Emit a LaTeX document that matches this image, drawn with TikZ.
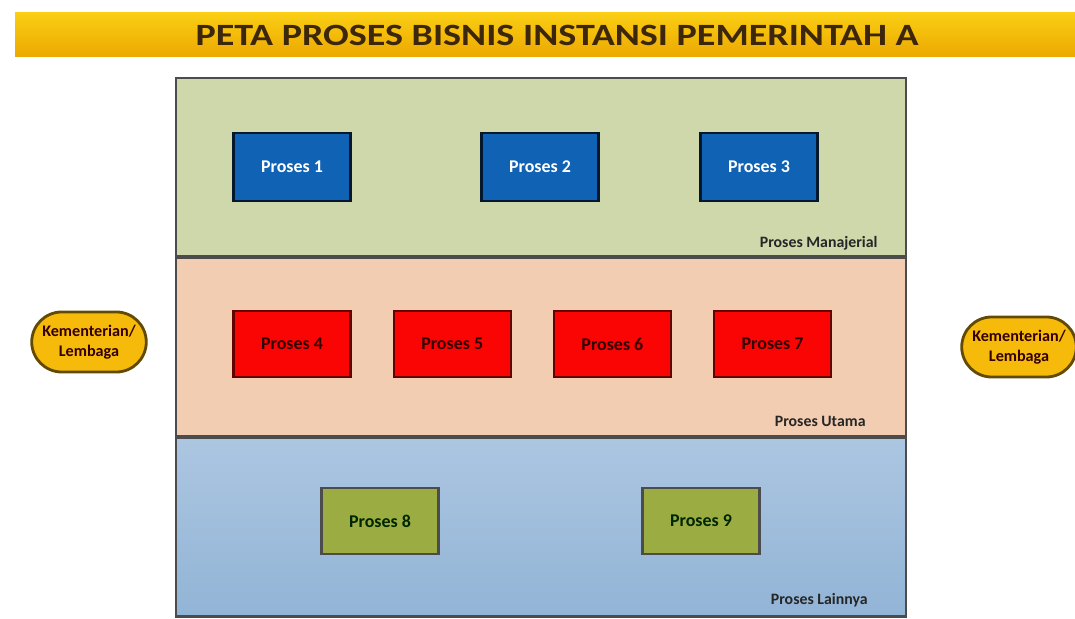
\documentclass[tikz,border=0pt]{standalone}
\usepackage{fontspec}
\setmainfont{Carlito}
\usepackage{tikz}
\usetikzlibrary{positioning,shapes.misc}

\definecolor{bandgreen}{RGB}{207,216,170}
\definecolor{bandpeach}{RGB}{243,205,178}
\definecolor{bandbluetop}{RGB}{172,198,225}
\definecolor{bandbluebot}{RGB}{146,180,214}
\definecolor{boxblue}{RGB}{16,98,180}
\definecolor{boxred}{RGB}{250,4,4}
\definecolor{boxolive}{RGB}{155,172,66}
\definecolor{pillgold}{RGB}{245,186,10}
\definecolor{titletop}{RGB}{250,206,20}
\definecolor{titlebot}{RGB}{236,168,0}
\definecolor{titletext}{RGB}{60,38,12}

\tikzset{
  band/.style={draw=black!70,line width=0.6pt,minimum width=7.30cm,minimum height=1.78cm,inner sep=0pt},
  procblue/.style={draw=black!75!boxblue,line width=0.6pt,fill=boxblue,text=white,minimum width=1.17cm,minimum height=0.68cm,font=\fontsize{5.1}{6}\selectfont\bfseries},
  procred/.style={draw=black!60!boxred,line width=0.6pt,fill=boxred,text=black!80!red,minimum width=1.17cm,minimum height=0.66cm,font=\fontsize{5.1}{6}\selectfont\bfseries},
  procolive/.style={draw=black!70,line width=0.6pt,fill=boxolive,text=black!85!green,minimum width=1.17cm,minimum height=0.66cm,font=\fontsize{5.1}{6}\selectfont\bfseries},
  pill/.style={rounded rectangle,draw=black!60!pillgold,line width=0.8pt,fill=pillgold,minimum width=1.18cm,minimum height=0.60cm,inner sep=0.5pt,align=center,font=\fontsize{4.6}{5.6}\selectfont\bfseries,text=black!80!red},
  bandlabel/.style={anchor=east,font=\fontsize{4.5}{5}\selectfont\bfseries,text=black!85}
}

\begin{document}
\begin{tikzpicture}[x=0.01cm,y=-0.01cm]
  \useasboundingbox[fill=white] (0,0) rectangle (1075,619);
  %% Title banner
  \shade[top color=titletop,bottom color=titlebot] (15,13) rectangle (1075,57);
  \node[font=\fontsize{8.8}{10}\selectfont\bfseries,text=titletext] (title) at (557,35) {\scalebox{1.23}[1]{PETA PROSES BISNIS INSTANSI PEMERINTAH A}};
  %% Bands
  \node[band,fill=bandgreen] (manaj) at (541,167) {};
  \node[band,fill=bandpeach,below=0pt of manaj] (utama) {};
  \node[band,top color=bandbluetop,bottom color=bandbluebot,below=0pt of utama] (lain) {};
  \node[bandlabel] at (890,243) {Proses Manajerial};
  \node[bandlabel] at (878,421) {Proses Utama};
  \node[bandlabel] at (880,600) {Proses Lainnya};
  %% Proses manajerial
  \node[procblue] (p1) at (292,167) {Proses 1};
  \node[procblue] (p2) at (540,167) {Proses 2};
  \node[procblue] (p3) at (759,167) {Proses 3};
  %% Proses utama
  \node[procred] (p4) at (292,344) {Proses 4};
  \node[procred,right=0.41cm of p4] (p5) {Proses 5};
  \node[procred,right=0.41cm of p5] (p6) {Proses 6};
  \node[procred,right=0.41cm of p6] (p7) {Proses 7};
  %% Proses lainnya
  \node[procolive] (p8) at (380,521) {Proses 8};
  \node[procolive] (p9) at (701,521) {Proses 9};
  %% Stakeholders
  \node[pill] (kl1) at (89,342) {Kementerian/\\Lembaga};
  \node[pill] (kl2) at (1019,347) {Kementerian/\\Lembaga};
\end{tikzpicture}
\end{document}
